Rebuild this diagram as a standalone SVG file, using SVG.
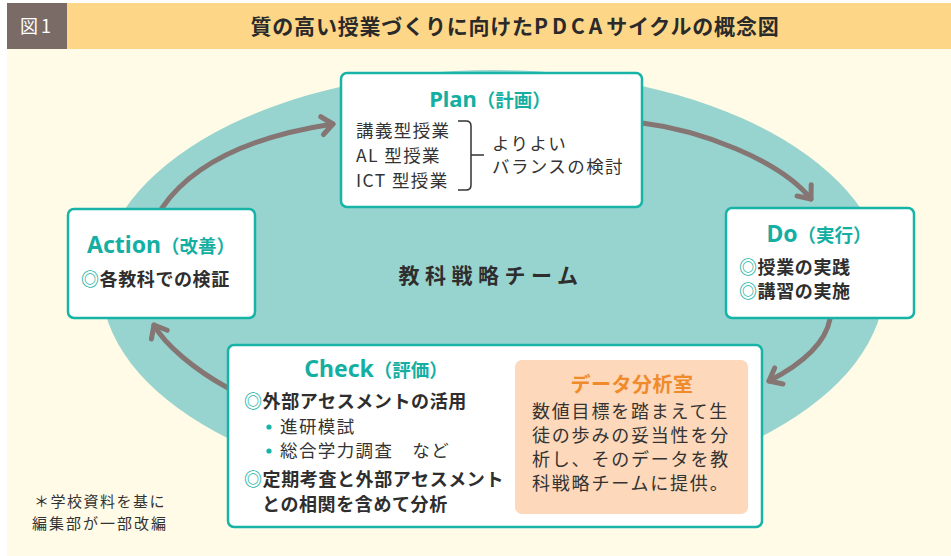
<svg xmlns="http://www.w3.org/2000/svg" width="951" height="556" viewBox="0 0 951 556">
<defs>
<style>
.jp{font-family:"Noto Sans CJK JP","Noto Sans",sans-serif;}
.lat{font-family:"Noto Sans","Noto Sans CJK JP",sans-serif;}
.box{fill:#FFFFFF;stroke:#17B3A6;stroke-width:2.5;}
.ttl{fill:#14AFA2;font-weight:700;}
.bd{fill:#2E2E2E;font-weight:700;font-size:18px;letter-spacing:0.6px;}
.rg{fill:#333333;font-size:17.5px;letter-spacing:1.4px;}
.mk{fill:#17B3A6;}
.arr{fill:none;stroke:#857674;stroke-width:5;stroke-linecap:round;}
</style>
<marker id="ah" markerUnits="userSpaceOnUse" viewBox="-16 -14 20 28" refX="0" refY="0" markerWidth="20" markerHeight="28" orient="auto" overflow="visible">
<path d="M-11,-9 L0,0 L-11,9" fill="none" stroke="#857674" stroke-width="5" stroke-linecap="round" stroke-linejoin="round"/>
</marker>
</defs>
<rect x="0" y="0" width="951" height="556" fill="#FFFFFF"/>
<rect x="7" y="49" width="944" height="507" fill="#FFFBE7"/>
<g id="header">
<rect x="7" y="3" width="60" height="46" fill="#7B6B66"/>
<rect x="67" y="3" width="884" height="46" fill="#FDD687"/>
<text class="jp" x="37" y="33" font-size="18" fill="#FFFFFF" text-anchor="middle" letter-spacing="3">図1</text>
<text class="jp" x="515" y="34" font-size="21" font-weight="700" fill="#2A2A2A" text-anchor="middle" letter-spacing="0.8">質の高い授業づくりに向けた<tspan letter-spacing="4">PDCA</tspan>サイクルの概念図</text>
</g>
<ellipse id="team-area" cx="493" cy="282" rx="392" ry="212" fill="#98D4CF"/>
<g id="connectors">
<path class="arr" d="M162,208 C195,160 260,135 333,124" marker-end="url(#ah)"/>
<path class="arr" d="M642,123 C700,130 780,160 811,199" marker-end="url(#ah)"/>
<path class="arr" d="M830,319 C825,345 800,365 769,381" marker-end="url(#ah)"/>
<path class="arr" d="M228,388 C195,370 165,345 154,325" marker-end="url(#ah)"/>
</g>
<g id="team">
<text class="jp" x="491" y="283" font-size="21" font-weight="700" fill="#2E2E2E" text-anchor="middle" letter-spacing="5.5">教科戦略チーム</text>
</g>
<g id="plan">
<rect class="box" x="341" y="73" width="301" height="134" rx="6"/>
<text class="lat ttl" x="490" y="107" text-anchor="middle"><tspan font-size="22">Plan</tspan><tspan class="jp" font-size="18.5">（計画）</tspan></text>
<text class="jp rg" x="356" y="137">講義型授業</text>
<text class="jp rg" x="356" y="162">AL 型授業</text>
<text class="jp rg" x="356" y="187">ICT 型授業</text>
<path d="M458,121 H466 Q471,121 471,126 V185 Q471,190 466,190 H458 M471,155 H484" fill="none" stroke="#333333" stroke-width="1.5"/>
<text class="jp rg" x="492" y="150">よりよい</text>
<text class="jp rg" x="492" y="173">バランスの検討</text>
</g>
<g id="do">
<rect class="box" x="726" y="208" width="188" height="110" rx="6"/>
<text class="lat ttl" x="819" y="242" text-anchor="middle"><tspan font-size="23">Do</tspan><tspan class="jp" font-size="18.5">（実行）</tspan></text>
<text class="jp bd" x="739" y="274"><tspan class="mk">◎</tspan>授業の実践</text>
<text class="jp bd" x="739" y="298"><tspan class="mk">◎</tspan>講習の実施</text>
</g>
<g id="action">
<rect class="box" x="68" y="209" width="187" height="109" rx="6"/>
<text class="lat ttl" x="161" y="253" text-anchor="middle"><tspan font-size="23">Action</tspan><tspan class="jp" font-size="18.5">（改善）</tspan></text>
<text class="jp bd" x="81" y="286"><tspan class="mk">◎</tspan>各教科での検証</text>
</g>
<g id="check">
<rect class="box" x="228" y="345" width="534" height="182" rx="6"/>
<text class="lat ttl" x="376" y="377" text-anchor="middle"><tspan font-size="23">Check</tspan><tspan class="jp" font-size="18.5">（評価）</tspan></text>
<text class="jp bd" x="244" y="408"><tspan class="mk">◎</tspan>外部アセスメントの活用</text>
<circle cx="269" cy="427" r="2.6" fill="#17B3A6"/>
<text class="jp rg" x="280" y="433">進研模試</text>
<circle cx="269" cy="451" r="2.6" fill="#17B3A6"/>
<text class="jp rg" x="280" y="457">総合学力調査　など</text>
<text class="jp bd" x="244" y="486" font-size="17.5px"><tspan class="mk">◎</tspan>定期考査と外部アセスメント</text>
<text class="jp bd" x="262" y="511" font-size="17.5px">との相関を含めて分析</text>
</g>
<g id="data-room">
<rect x="515" y="360" width="233" height="154" rx="7" fill="#FDD8BA"/>
<text class="jp" x="632" y="392" font-size="20" font-weight="700" fill="#F08B2B" text-anchor="middle" letter-spacing="0.5">データ分析室</text>
<text class="jp" x="532" y="418" font-size="18" fill="#333333" letter-spacing="1.8">数値目標を踏まえて生</text>
<text class="jp" x="532" y="442" font-size="18" fill="#333333" letter-spacing="1.8">徒の歩みの妥当性を分</text>
<text class="jp" x="532" y="466" font-size="18" fill="#333333" letter-spacing="1.8">析し、そのデータを教</text>
<text class="jp" x="532" y="490" font-size="18" fill="#333333" letter-spacing="1.8">科戦略チームに提供。</text>
</g>
<g id="note">
<text class="jp" x="100" y="507" font-size="15" fill="#333333" text-anchor="middle" letter-spacing="1.5">＊学校資料を基に</text>
<text class="jp" x="100" y="529" font-size="15" fill="#333333" text-anchor="middle" letter-spacing="2">編集部が一部改編</text>
</g>
</svg>
